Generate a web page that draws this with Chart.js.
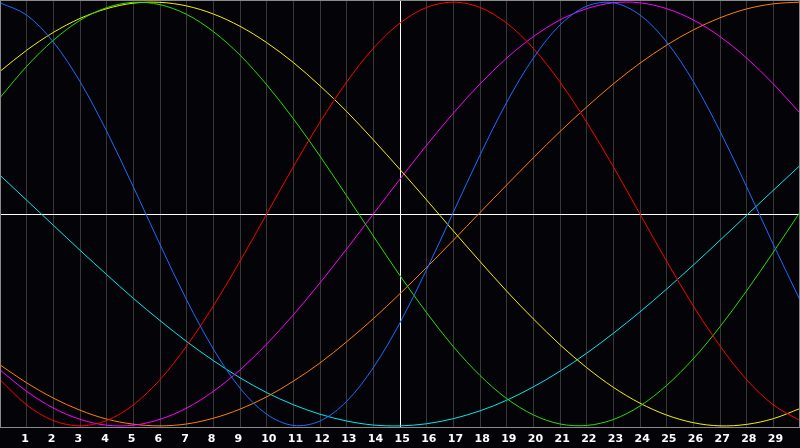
<!DOCTYPE html>
<html>
<head>
<meta charset="utf-8">
<title>Biorhythm</title>
<script src="https://cdn.jsdelivr.net/npm/chart.js@4.4.1/dist/chart.umd.min.js"></script>
<style>
  html, body { margin: 0; padding: 0; background: #040408; }
  canvas { display: block; }
</style>
</head>
<body>
<canvas id="chart" width="800" height="448"></canvas>
<script>
// Sample days (x) and the labelled days on the axis
const days = [0, 1, 2, 3, 4, 5, 6, 7, 8, 9, 10, 11, 12, 13, 14, 15, 16, 17, 18, 19, 20, 21, 22, 23, 24, 25, 26, 27, 28, 29, 30];
const dayLabels = [1, 2, 3, 4, 5, 6, 7, 8, 9, 10, 11, 12, 13, 14, 15, 16, 17, 18, 19, 20, 21, 22, 23, 24, 25, 26, 27, 28, 29];
const today = 15;

// Cycle values, one per day
const physical = [0.997, 0.939, 0.812, 0.625, 0.391, 0.128, -0.144, -0.406, -0.637, -0.822, -0.945, -0.998, -0.977, -0.884, -0.725, -0.513, -0.262, 0.008, 0.278, 0.527, 0.736, 0.892, 0.981, 0.997, 0.939, 0.812, 0.625, 0.391, 0.128, -0.144, -0.406];
const emotional = [-0.782, -0.901, -0.975, -1.000, -0.975, -0.901, -0.782, -0.623, -0.434, -0.223, 0.000, 0.223, 0.434, 0.623, 0.782, 0.901, 0.975, 1.000, 0.975, 0.901, 0.782, 0.623, 0.434, 0.223, 0.000, -0.223, -0.434, -0.623, -0.782, -0.901, -0.975];
const intellectual = [0.549, 0.697, 0.820, 0.914, 0.974, 0.999, 0.988, 0.942, 0.861, 0.750, 0.610, 0.450, 0.273, 0.086, -0.104, -0.291, -0.466, -0.626, -0.762, -0.871, -0.948, -0.991, -0.998, -0.970, -0.906, -0.809, -0.683, -0.532, -0.362, -0.180, 0.009];
const intuitive = [-0.736, -0.837, -0.916, -0.969, -0.997, -0.997, -0.969, -0.916, -0.837, -0.736, -0.614, -0.476, -0.325, -0.165, 0.000, 0.165, 0.325, 0.476, 0.614, 0.736, 0.837, 0.916, 0.969, 0.997, 0.997, 0.969, 0.916, 0.837, 0.736, 0.614, 0.476];
const aesthetic = [0.673, 0.773, 0.857, 0.923, 0.969, 0.995, 0.999, 0.982, 0.944, 0.886, 0.809, 0.715, 0.605, 0.484, 0.350, 0.210, 0.066, -0.080, -0.224, -0.364, -0.495, -0.617, -0.725, -0.818, -0.893, -0.949, -0.985, -1.000, -0.993, -0.966, -0.918];
const awareness = [-0.712, -0.797, -0.869, -0.926, -0.968, -0.992, -1.000, -0.991, -0.964, -0.921, -0.863, -0.789, -0.703, -0.603, -0.494, -0.376, -0.252, -0.124, 0.007, 0.137, 0.265, 0.389, 0.505, 0.614, 0.712, 0.797, 0.869, 0.926, 0.968, 0.992, 1.000];
const spiritual = [0.183, 0.065, -0.053, -0.171, -0.286, -0.398, -0.503, -0.602, -0.692, -0.773, -0.843, -0.900, -0.945, -0.977, -0.996, -1.000, -0.990, -0.966, -0.929, -0.879, -0.816, -0.742, -0.657, -0.563, -0.462, -0.354, -0.241, -0.124, -0.006, 0.112, 0.229];

const cycles = [
    { label: 'Physical', values: physical, color: '#1a6cff' },
    { label: 'Emotional', values: emotional, color: '#ff0000' },
    { label: 'Intellectual', values: intellectual, color: '#22e000' },
    { label: 'Intuitive', values: intuitive, color: '#ff00ff' },
    { label: 'Aesthetic', values: aesthetic, color: '#f8f000' },
    { label: 'Awareness', values: awareness, color: '#ff8000' },
    { label: 'Spiritual', values: spiritual, color: '#00e8f0' }
];

// black page and grey frame round the plot
const frame = {
    id: 'frame',
    beforeDraw(chart) {
        const c = chart.ctx;
        c.save();
        c.fillStyle = '#040408';
        c.fillRect(0, 0, chart.width, chart.height);
        c.restore();
    },
    afterDatasetsDraw(chart) {
        const a = chart.chartArea;
        const c = chart.ctx;
        c.save();
        c.strokeStyle = '#8a8a8a';
        c.lineWidth = 1;
        c.strokeRect(a.left + 0.5, a.top + 0.5, a.right - a.left - 1, a.bottom - a.top - 1);
        c.restore();
    }
};

new Chart(document.getElementById('chart'), {
    type: 'line',
    data: {
        datasets: cycles.map(cy => ({
            label: cy.label,
            data: cy.values.map((v, i) => ({ x: days[i], y: v })),
            borderColor: cy.color,
            borderWidth: 1,
            pointRadius: 0,
            tension: 0.33,
            fill: false
        }))
    },
    options: {
        responsive: false,
        animation: false,
        devicePixelRatio: 1,
        layout: { padding: 0 },
        plugins: {
            legend: { display: false },
            tooltip: { enabled: false }
        },
        scales: {
            x: {
                type: 'linear',
                min: 0,
                max: 30,
                afterBuildTicks: s => { s.ticks = dayLabels.map(d => ({ value: d })); },
                afterFit: s => { s.height = 20; },
                grid: {
                    color: ctx => (ctx.tick && ctx.tick.value === today) ? '#ffffff' : '#383838',
                    drawTicks: false
                },
                border: { display: false },
                ticks: {
                    color: '#ffffff',
                    padding: 4.4,
                    align: 'start',
                    labelOffset: -5.5,
                    maxRotation: 0,
                    autoSkip: false,
                    font: { family: 'DejaVu Sans', size: 11, weight: 'bold' }
                }
            },
            y: {
                min: -1.01,
                max: 1.01,
                afterBuildTicks: s => { s.ticks = [{ value: 0 }]; },
                afterFit: s => { s.width = 0; },
                grid: { color: '#ffffff', drawTicks: false },
                border: { display: false },
                ticks: { display: false }
            }
        }
    },
    plugins: [frame]
});
</script>
</body>
</html>
